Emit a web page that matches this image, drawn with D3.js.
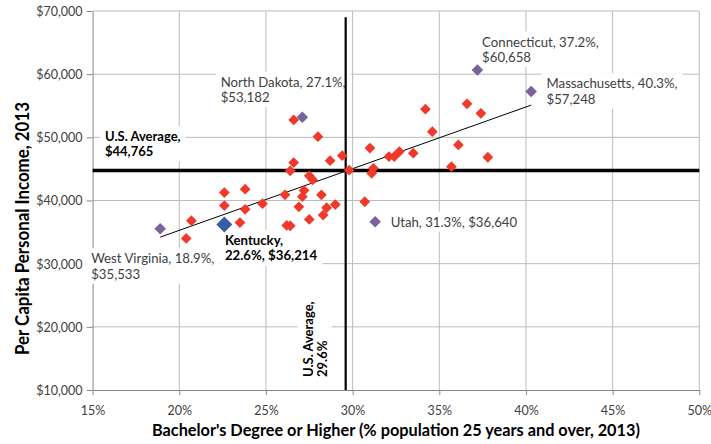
<!DOCTYPE html>
<html>
<head>
<meta charset="utf-8">
<script src="https://cdn.jsdelivr.net/npm/d3@7"></script>
<style>
  body { margin: 0; background: #fff; }
  svg { display: block; font-family: Lato, "Open Sans", sans-serif; }
</style>
</head>
<body>
<div id="chart"></div>
<script>
// Other states (red markers)
const redPct = [20.7, 20.4, 22.6, 22.6, 23.8, 23.8, 23.5, 24.8,
  26.6, 28.0, 26.6, 26.4, 28.7, 29.4, 29.8, 27.5, 27.7, 26.1, 27.2, 27.1,
  28.2, 26.9, 28.5, 28.3, 29.0, 27.5, 26.2, 26.4,
  31.0, 31.2, 31.1, 30.7, 32.1, 32.4, 32.7, 33.5, 34.2, 34.6, 36.1, 35.7,
  36.6, 37.4, 37.8];
const redIncome = [36800, 34000, 41250, 39200, 41800, 38600, 36500, 39500,
  52750, 50100, 46000, 44700, 46300, 47100, 44800, 43900, 43250, 40900, 41600, 40600,
  40900, 39000, 38850, 37700, 39350, 37000, 36050, 36000,
  48300, 45100, 44300, 39800, 46950, 46950, 47750, 47500, 54450, 50900, 48800, 45350,
  55300, 53800, 46850];

// Highlighted states
const namedStates = ["West Virginia", "Kentucky", "North Dakota", "Utah", "Connecticut", "Massachusetts"];
const namedPct = [18.9, 22.6, 27.1, 31.3, 37.2, 40.3];
const namedIncome = [35533, 36214, 53182, 36640, 60658, 57248];

const usAvgPct = 29.6;
const usAvgIncome = 44765;

// linear trendline
const trendPct = [18.9, 40.3];
const trendIncome = [34200, 55100];

const xTicks = [15, 20, 25, 30, 35, 40, 45, 50];
const yTicks = [10000, 20000, 30000, 40000, 50000, 60000, 70000];

const width = 711;
const height = 444;
const margin = { top: 11, right: 11.7, bottom: 54, left: 92.6 };

const svg = d3.select("#chart")
  .append("svg")
  .attr("width", width)
  .attr("height", height);

const x = d3.scaleLinear()
  .domain([15, 50])
  .range([margin.left, width - margin.right]);

const y = d3.scaleLinear()
  .domain([10000, 70000])
  .range([height - margin.bottom, margin.top]);

const gridLayer = svg.append("g");
const labelLayer = svg.append("g");
const markLayer = svg.append("g");

// Gridlines
gridLayer.append("g")
  .selectAll("line")
  .data(xTicks.slice(1))
  .join("line")
  .attr("x1", d => x(d)).attr("x2", d => x(d))
  .attr("y1", y(70000)).attr("y2", y(10000))
  .attr("stroke", "#bcbcbc");

gridLayer.append("g")
  .selectAll("line")
  .data(yTicks.slice(1))
  .join("line")
  .attr("x1", x(15)).attr("x2", x(50))
  .attr("y1", d => y(d)).attr("y2", d => y(d))
  .attr("stroke", "#bcbcbc");

// Y Axis
const yAxis = gridLayer.append("g")
  .attr("transform", `translate(${margin.left},0)`)
  .call(d3.axisLeft(y).tickValues(yTicks).tickFormat(d3.format("$,")).tickSize(6).tickSizeOuter(0));

// X Axis
const xAxis = gridLayer.append("g")
  .attr("transform", `translate(0,${height - margin.bottom})`)
  .call(d3.axisBottom(x).tickValues(xTicks).tickFormat(d => d + "%").tickSize(5).tickSizeOuter(0));

[yAxis, xAxis].forEach(a => {
  a.select(".domain").attr("stroke", "#868686");
  a.selectAll(".tick line").attr("stroke", "#868686");
  a.selectAll(".tick text")
    .attr("fill", "#404040")
    .style("font-size", "12.5px")
    .style("font-family", "Lato, sans-serif");
});
yAxis.selectAll(".tick text").attr("x", -10).attr("dy", "0.35em");
xAxis.selectAll(".tick text").attr("y", 16);

// Axis titles
svg.append("text")
  .attr("x", (x(15) + x(50)) / 2)
  .attr("y", 436)
  .attr("text-anchor", "middle")
  .style("font-size", "16.3px")
  .style("font-weight", "bold")
  .attr("fill", "#000")
  .text("Bachelor's Degree or Higher (% population 25 years and over, 2013)");

svg.append("text")
  .attr("transform", "translate(29,228.5) rotate(-90)")
  .attr("text-anchor", "middle")
  .attr("textLength", 253)
  .attr("lengthAdjust", "spacingAndGlyphs")
  .style("font-size", "18px")
  .style("font-weight", "bold")
  .attr("fill", "#000")
  .text("Per Capita Personal Income, 2013");

// Labels with white boxes
function addLabel(lines, tx, ty, opts) {
  const g = labelLayer.append("g").attr("transform", opts.transform || `translate(${tx},${ty})`);
  const rect = g.append("rect").attr("fill", "#fff");
  const t = g.append("text")
    .style("font-size", opts.size + "px")
    .style("font-weight", opts.bold ? "bold" : "normal")
    .attr("fill", opts.color);
  lines.forEach((l, i) => {
    t.append("tspan").attr("x", 0).attr("y", i * opts.lh).text(l);
  });
  const b = t.node().getBBox();
  const px = 5, py = 2;
  rect.attr("x", b.x - px).attr("y", b.y - py)
    .attr("width", b.width + 2 * px).attr("height", b.height + 2 * py);
}

const fmt = d3.format("$,");
const labelOffsets = [
  [-69, 34.5], [0.6, 20.5], [-81.7, -30.6], [15.5, 4.9], [4.7, -23.5], [15.4, -3.3]
];
namedStates.forEach((name, i) => {
  const px = x(namedPct[i]), py = y(namedIncome[i]);
  const [dx, dy] = labelOffsets[i];
  let lines;
  if (name === "Kentucky") lines = [name + ",", namedPct[i] + "%, " + fmt(namedIncome[i])];
  else if (name === "Utah") lines = [name + ", " + namedPct[i] + "%, " + fmt(namedIncome[i])];
  else lines = [name + ", " + namedPct[i] + "%,", fmt(namedIncome[i])];
  addLabel(lines, px + dx, py + dy, {
    size: 13.2, lh: 15.5,
    bold: name === "Kentucky",
    color: name === "Kentucky" ? "#000" : "#404040"
  });
});

addLabel(["U.S. Average,", fmt(usAvgIncome)], 105, y(usAvgIncome) - 29.3,
  { size: 13, lh: 15, bold: true, color: "#000" });
addLabel(["U.S. Average,", usAvgPct + "%"], 0, 0,
  { size: 13, lh: 14, bold: true, color: "#000", transform: `translate(${x(usAvgPct) - 33},377) rotate(-90)` });

// US average lines
markLayer.append("line")
  .attr("x1", x(15)).attr("x2", x(50))
  .attr("y1", y(usAvgIncome)).attr("y2", y(usAvgIncome))
  .attr("stroke", "#000").attr("stroke-width", 3.5);

markLayer.append("line")
  .attr("x1", x(usAvgPct)).attr("x2", x(usAvgPct))
  .attr("y1", y(69000)).attr("y2", y(10000))
  .attr("stroke", "#000").attr("stroke-width", 2.2);

// Trendline
markLayer.append("line")
  .attr("x1", x(trendPct[0])).attr("x2", x(trendPct[1]))
  .attr("y1", y(trendIncome[0])).attr("y2", y(trendIncome[1]))
  .attr("stroke", "#000").attr("stroke-width", 1);

// Diamonds
function diamond(side) {
  return `M0,${-side}L${side},0L0,${side}L${-side},0Z`;
}
markLayer.append("g")
  .selectAll("path")
  .data(redPct.map((p, i) => [p, redIncome[i]]))
  .join("path")
  .attr("transform", d => `translate(${x(d[0])},${y(d[1])})`)
  .attr("d", diamond(5.4))
  .attr("fill", "#f0392b");

markLayer.append("g")
  .selectAll("path")
  .data(namedStates.map((n, i) => [namedPct[i], namedIncome[i], n]))
  .join("path")
  .attr("transform", d => `translate(${x(d[0])},${y(d[1])})`)
  .attr("d", d => d[2] === "Kentucky" ? diamond(8) : diamond(5.8))
  .attr("fill", d => d[2] === "Kentucky" ? "#3a5ba8" : "#7b629e");
</script>
</body>
</html>
